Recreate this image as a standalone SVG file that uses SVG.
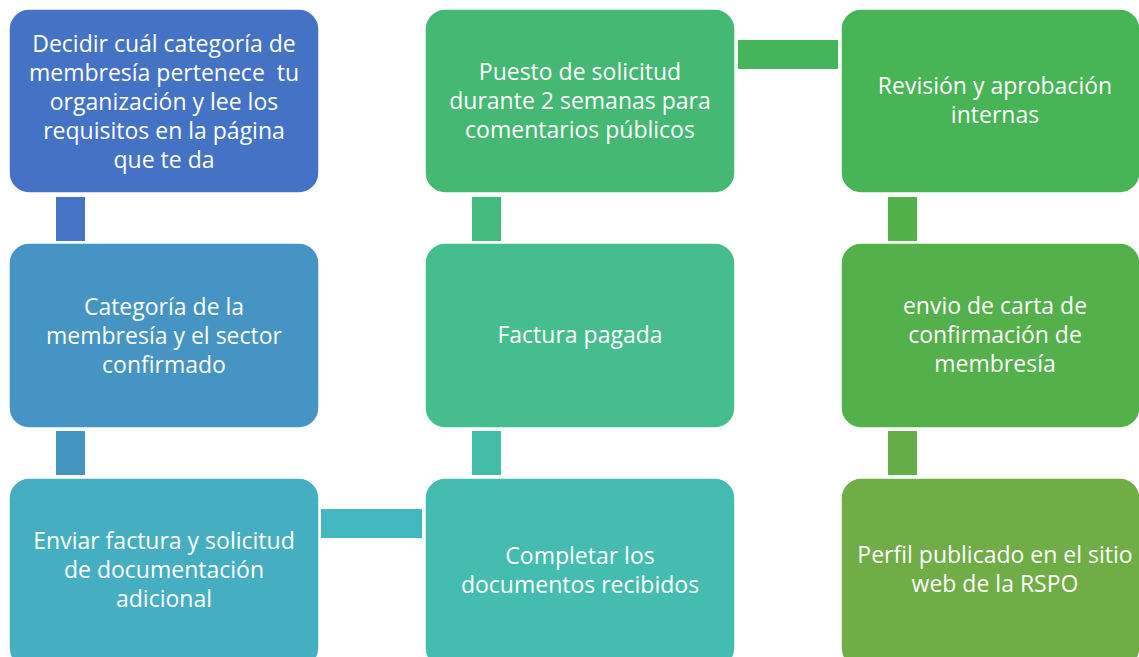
<svg xmlns="http://www.w3.org/2000/svg" width="1139" height="657" viewBox="0 0 1139 657">
<style>
.n{stroke:#ffffff;stroke-width:1.5}
.t{font-family:"Open Sans","Noto Sans",sans-serif;font-size:23px;fill:#ffffff;text-anchor:middle}
</style>
<rect width="1139" height="657" fill="#ffffff"/>
<g id="connectors">
<rect x="56" y="197" width="29" height="44" fill="#4574C6"/>
<rect x="56" y="431" width="29" height="44" fill="#4595C3"/>
<rect x="321" y="509" width="101" height="29" fill="#45B7C1"/>
<rect x="472" y="431" width="29" height="44" fill="#44BDA8"/>
<rect x="472" y="197" width="29" height="44" fill="#45BA7E"/>
<rect x="738" y="40" width="100" height="29" fill="#46B45A"/>
<rect x="888" y="197" width="29" height="44" fill="#51B04A"/>
<rect x="888" y="431" width="29" height="44" fill="#67AD47"/>
</g>
<g id="n1">
<rect class="n" x="9" y="9" width="310" height="184" rx="20" fill="#4472C4"/>
<text class="t" x="164" y="52">Decidir cuál categoría de</text>
<text class="t" x="164" y="81" xml:space="preserve">membresía pertenece  tu</text>
<text class="t" x="164" y="110">organización y lee los</text>
<text class="t" x="164" y="139">requisitos en la página</text>
<text class="t" x="164" y="168">que te da</text>
</g>
<g id="n2">
<rect class="n" x="9" y="243" width="310" height="185" rx="20" fill="#4594C3"/>
<text class="t" x="164" y="315">Categoría de la</text>
<text class="t" x="164" y="344">membresía y el sector</text>
<text class="t" x="164" y="373">confirmado</text>
</g>
<g id="n3">
<rect class="n" x="9" y="478" width="310" height="190" rx="20" fill="#45AFC1"/>
<text class="t" x="164" y="549">Enviar factura y solicitud</text>
<text class="t" x="164" y="578">de documentación</text>
<text class="t" x="164" y="607">adicional</text>
</g>
<g id="n4">
<rect class="n" x="425" y="478" width="310" height="190" rx="20" fill="#44BDB0"/>
<text class="t" x="580" y="564">Completar los</text>
<text class="t" x="580" y="593">documentos recibidos</text>
</g>
<g id="n5">
<rect class="n" x="425" y="243" width="310" height="185" rx="20" fill="#45BD8E"/>
<text class="t" x="580" y="343">Factura pagada</text>
</g>
<g id="n6">
<rect class="n" x="425" y="9" width="310" height="184" rx="20" fill="#45B874"/>
<text class="t" x="580" y="80">Puesto de solicitud</text>
<text class="t" x="580" y="109">durante 2 semanas para</text>
<text class="t" x="580" y="138">comentarios públicos</text>
</g>
<g id="n7">
<rect class="n" x="841" y="9" width="299" height="184" rx="20" fill="#47B455"/>
<text class="t" x="995" y="94">Revisión y aprobación</text>
<text class="t" x="995" y="123">internas</text>
</g>
<g id="n8">
<rect class="n" x="841" y="243" width="299" height="185" rx="20" fill="#54B04A"/>
<text class="t" x="995" y="314">envio de carta de</text>
<text class="t" x="995" y="343">confirmación de</text>
<text class="t" x="995" y="372">membresía</text>
</g>
<g id="n9">
<rect class="n" x="841" y="478" width="299" height="190" rx="20" fill="#70AD47"/>
<text class="t" x="995" y="563">Perfil publicado en el sitio</text>
<text class="t" x="995" y="592">web de la RSPO</text>
</g>
</svg>
